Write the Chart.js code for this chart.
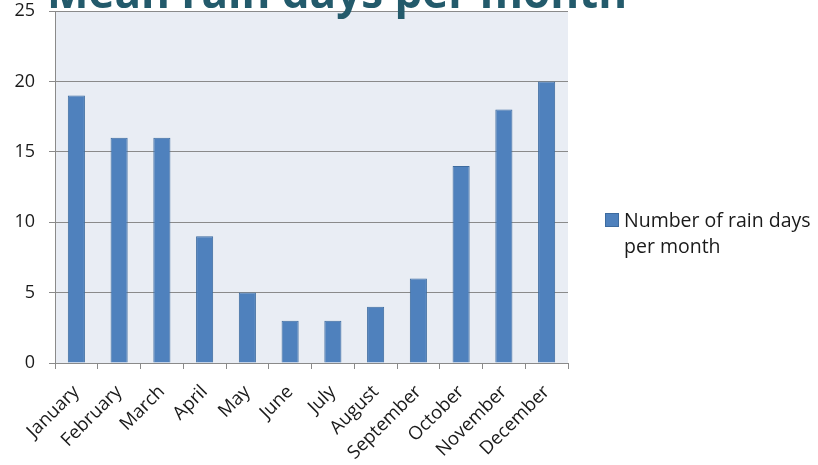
<!DOCTYPE html>
<html lang="en">
<head>
    <meta charset="UTF-8">
    <title>Mean rain days per month</title>
    <script src="https://cdn.jsdelivr.net/npm/chart.js@4.4.1/dist/chart.umd.min.js"></script>
    <style>
        html, body {
            margin: 0;
            padding: 0;
            background: #ffffff;
            overflow: hidden;
        }
        .wrap {
            position: relative;
            width: 818px;
            height: 465px;
        }
    </style>
</head>
<body>
<div class="wrap">
    <canvas id="myChart" width="818" height="465"></canvas>
</div>

<script>
    const title = 'Mean rain days per month'
    const seriesLabel = ['Number of rain days', 'per month']
    const months = ['January', 'February', 'March', 'April', 'May', 'June',
        'July', 'August', 'September', 'October', 'November', 'December']
    const rainDays = [19, 16, 16, 9, 5, 3, 3, 4, 6, 14, 18, 20]
    const yTicks = [0, 5, 10, 15, 20, 25]

    const barColor = '#4f81bd'
    const barBorder = '#3d6b9f'
    const gridColor = '#8a8a8a'
    const font = "'Open Sans', 'DejaVu Sans', sans-serif"

    // plot background + title + legend drawn on the canvas
    const decorations = {
        id: 'decorations',
        beforeDraw(chart) {
            const {ctx, chartArea: a} = chart
            ctx.save()
            ctx.fillStyle = '#e9edf4'
            ctx.fillRect(a.left, a.top, a.right - a.left, a.bottom - a.top)
            ctx.restore()
        },
        afterDraw(chart) {
            const {ctx} = chart
            ctx.save()
            // title, cut by the top of the picture
            ctx.fillStyle = '#235a6b'
            ctx.font = `bold 44px ${font}`
            ctx.textBaseline = 'alphabetic'
            ctx.fillText(title, 47, 8)

            // legend
            ctx.fillStyle = barColor
            ctx.fillRect(605, 213, 14, 14)
            ctx.strokeStyle = barBorder
            ctx.lineWidth = 1
            ctx.strokeRect(605.5, 213.5, 13, 13)
            ctx.fillStyle = '#1a1a1a'
            ctx.font = `19.5px ${font}`
            ctx.fillText(seriesLabel[0], 624, 227)
            ctx.fillText(seriesLabel[1], 624, 253)
            ctx.restore()
        }
    }

    const ctx = document.getElementById('myChart').getContext('2d')
    const myChart = new Chart(ctx, {
        type: 'bar',
        data: {
            labels: months,
            datasets: [{
                label: seriesLabel.join(' '),
                data: rainDays,
                backgroundColor: barColor,
                borderColor: barBorder,
                borderWidth: 1,
                barPercentage: 0.4,
                categoryPercentage: 1
            }]
        },
        options: {
            responsive: false,
            animation: false,
            layout: {
                padding: {top: 11, right: 250, left: 0, bottom: 0}
            },
            plugins: {
                legend: {display: false},
                tooltip: {enabled: false}
            },
            scales: {
                x: {
                    afterFit(scale) {
                        scale.height = 102
                        scale.paddingLeft = 0
                        scale.paddingRight = 0
                    },
                    grid: {
                        offset: true,
                        drawOnChartArea: false,
                        color: gridColor,
                        tickLength: 6
                    },
                    border: {color: gridColor},
                    ticks: {
                        minRotation: 45,
                        maxRotation: 45,
                        color: '#1a1a1a',
                        padding: 12,
                        font: {family: font, size: 18.5}
                    }
                },
                y: {
                    min: 0,
                    max: 25,
                    afterFit(scale) {
                        scale.width = 55
                        scale.paddingTop = 0
                        scale.paddingBottom = 0
                    },
                    afterBuildTicks(scale) {
                        scale.ticks = yTicks.map(v => ({value: v}))
                    },
                    grid: {
                        color: gridColor,
                        tickLength: 6
                    },
                    border: {color: gridColor},
                    ticks: {
                        color: '#1a1a1a',
                        padding: 14,
                        font: {family: font, size: 18}
                    }
                }
            }
        },
        plugins: [decorations]
    })
</script>
</body>
</html>
